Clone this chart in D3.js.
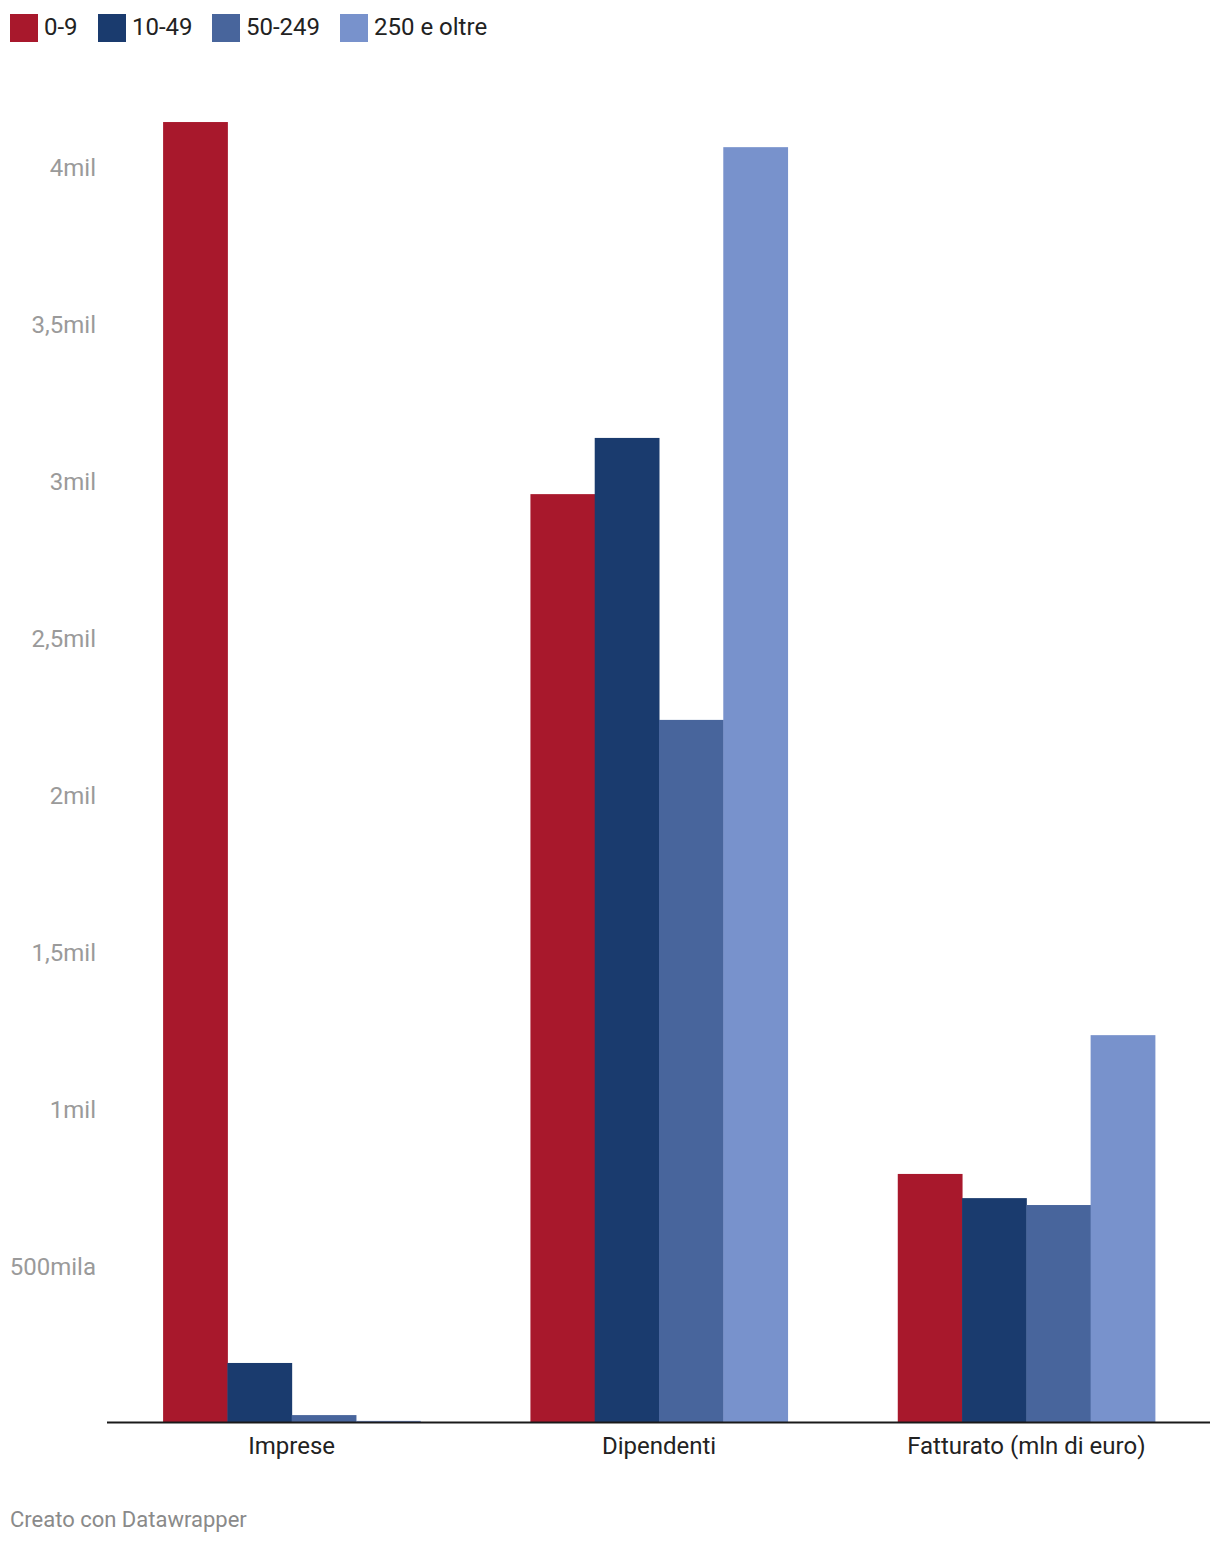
<!DOCTYPE html>
<html><head><meta charset="utf-8">
<script src="https://cdn.jsdelivr.net/npm/d3@7"></script>
<style>
body{margin:0;background:#fff;}
svg text{font-family:Roboto,"Noto Sans",sans-serif;}
</style></head>
<body><svg id="c" width="1220" height="1544"></svg>
<script>
const categories = ["Imprese", "Dipendenti", "Fatturato (mln di euro)"];
const seriesNames = ["0-9", "10-49", "50-249", "250 e oltre"];
const seriesColors = ["#a8182c", "#1a3b6e", "#48659c", "#7892cc"];
const values_0_9 = [4140000, 2955000, 790000];
const values_10_49 = [188000, 3134000, 713000];
const values_50_249 = [22000, 2236000, 691000];
const values_250 = [3600, 4060000, 1232000];
const tickValues = [500000, 1000000, 1500000, 2000000, 2500000, 3000000, 3500000, 4000000];
const tickLabels = ["500mila", "1mil", "1,5mil", "2mil", "2,5mil", "3mil", "3,5mil", "4mil"];
const footer = "Creato con Datawrapper";

const series = [values_0_9, values_10_49, values_50_249, values_250];
const svg = d3.select("#c");

const y = d3.scaleLinear().domain([0, 4000000]).range([1422, 166]);
const x0 = d3.scaleBand().domain(categories).range([108, 1210]).paddingInner(0.3).paddingOuter(0.15);
const x1 = d3.scaleBand().domain(seriesNames).range([0, x0.bandwidth()]);

// y tick labels
const yAxis = d3.axisLeft(y).tickValues(tickValues).tickSize(0)
  .tickFormat((d, i) => tickLabels[i]);
const gy = svg.append("g").attr("transform", "translate(96,0)").call(yAxis);
gy.select(".domain").remove();
gy.selectAll("text").attr("fill", "#9a9a9a").style("font-size", "24px")
  .attr("x", 0).attr("dy", "0.38em");

// bars
categories.forEach((c, ci) => {
  const g = svg.append("g").attr("transform", `translate(${x0(c)},0)`);
  g.selectAll("rect").data(seriesNames).join("rect")
    .attr("x", s => x1(s))
    .attr("width", x1.bandwidth() + 0.5)
    .attr("y", (s, si) => y(series[si][ci]))
    .attr("height", (s, si) => y(0) - y(series[si][ci]))
    .attr("fill", (s, si) => seriesColors[si]);
});

// x axis
const xAxis = d3.axisBottom(x0).tickSize(0).tickPadding(15);
const gx = svg.append("g").attr("transform", `translate(0,${y(0)})`).call(xAxis);
gx.select(".domain").attr("stroke", "#1a1a1a").attr("stroke-width", 2)
  .attr("d", "M107,0.5H1210");
gx.selectAll("text").attr("fill", "#222").style("font-size", "24px");

// legend
const legendX = [10, 98, 212, 340];
const lg = svg.append("g");
seriesNames.forEach((s, i) => {
  lg.append("rect").attr("x", legendX[i]).attr("y", 14).attr("width", 28).attr("height", 28)
    .attr("fill", seriesColors[i]);
  lg.append("text").attr("x", legendX[i] + 34).attr("y", 26).attr("dy", "0.36em")
    .attr("fill", "#222").style("font-size", "24px").text(s);
});

// footer
svg.append("text").attr("x", 10).attr("y", 1519).attr("dy", "0.35em")
  .attr("fill", "#8a8a8a").style("font-size", "22px").text(footer);
</script>
</body></html>
